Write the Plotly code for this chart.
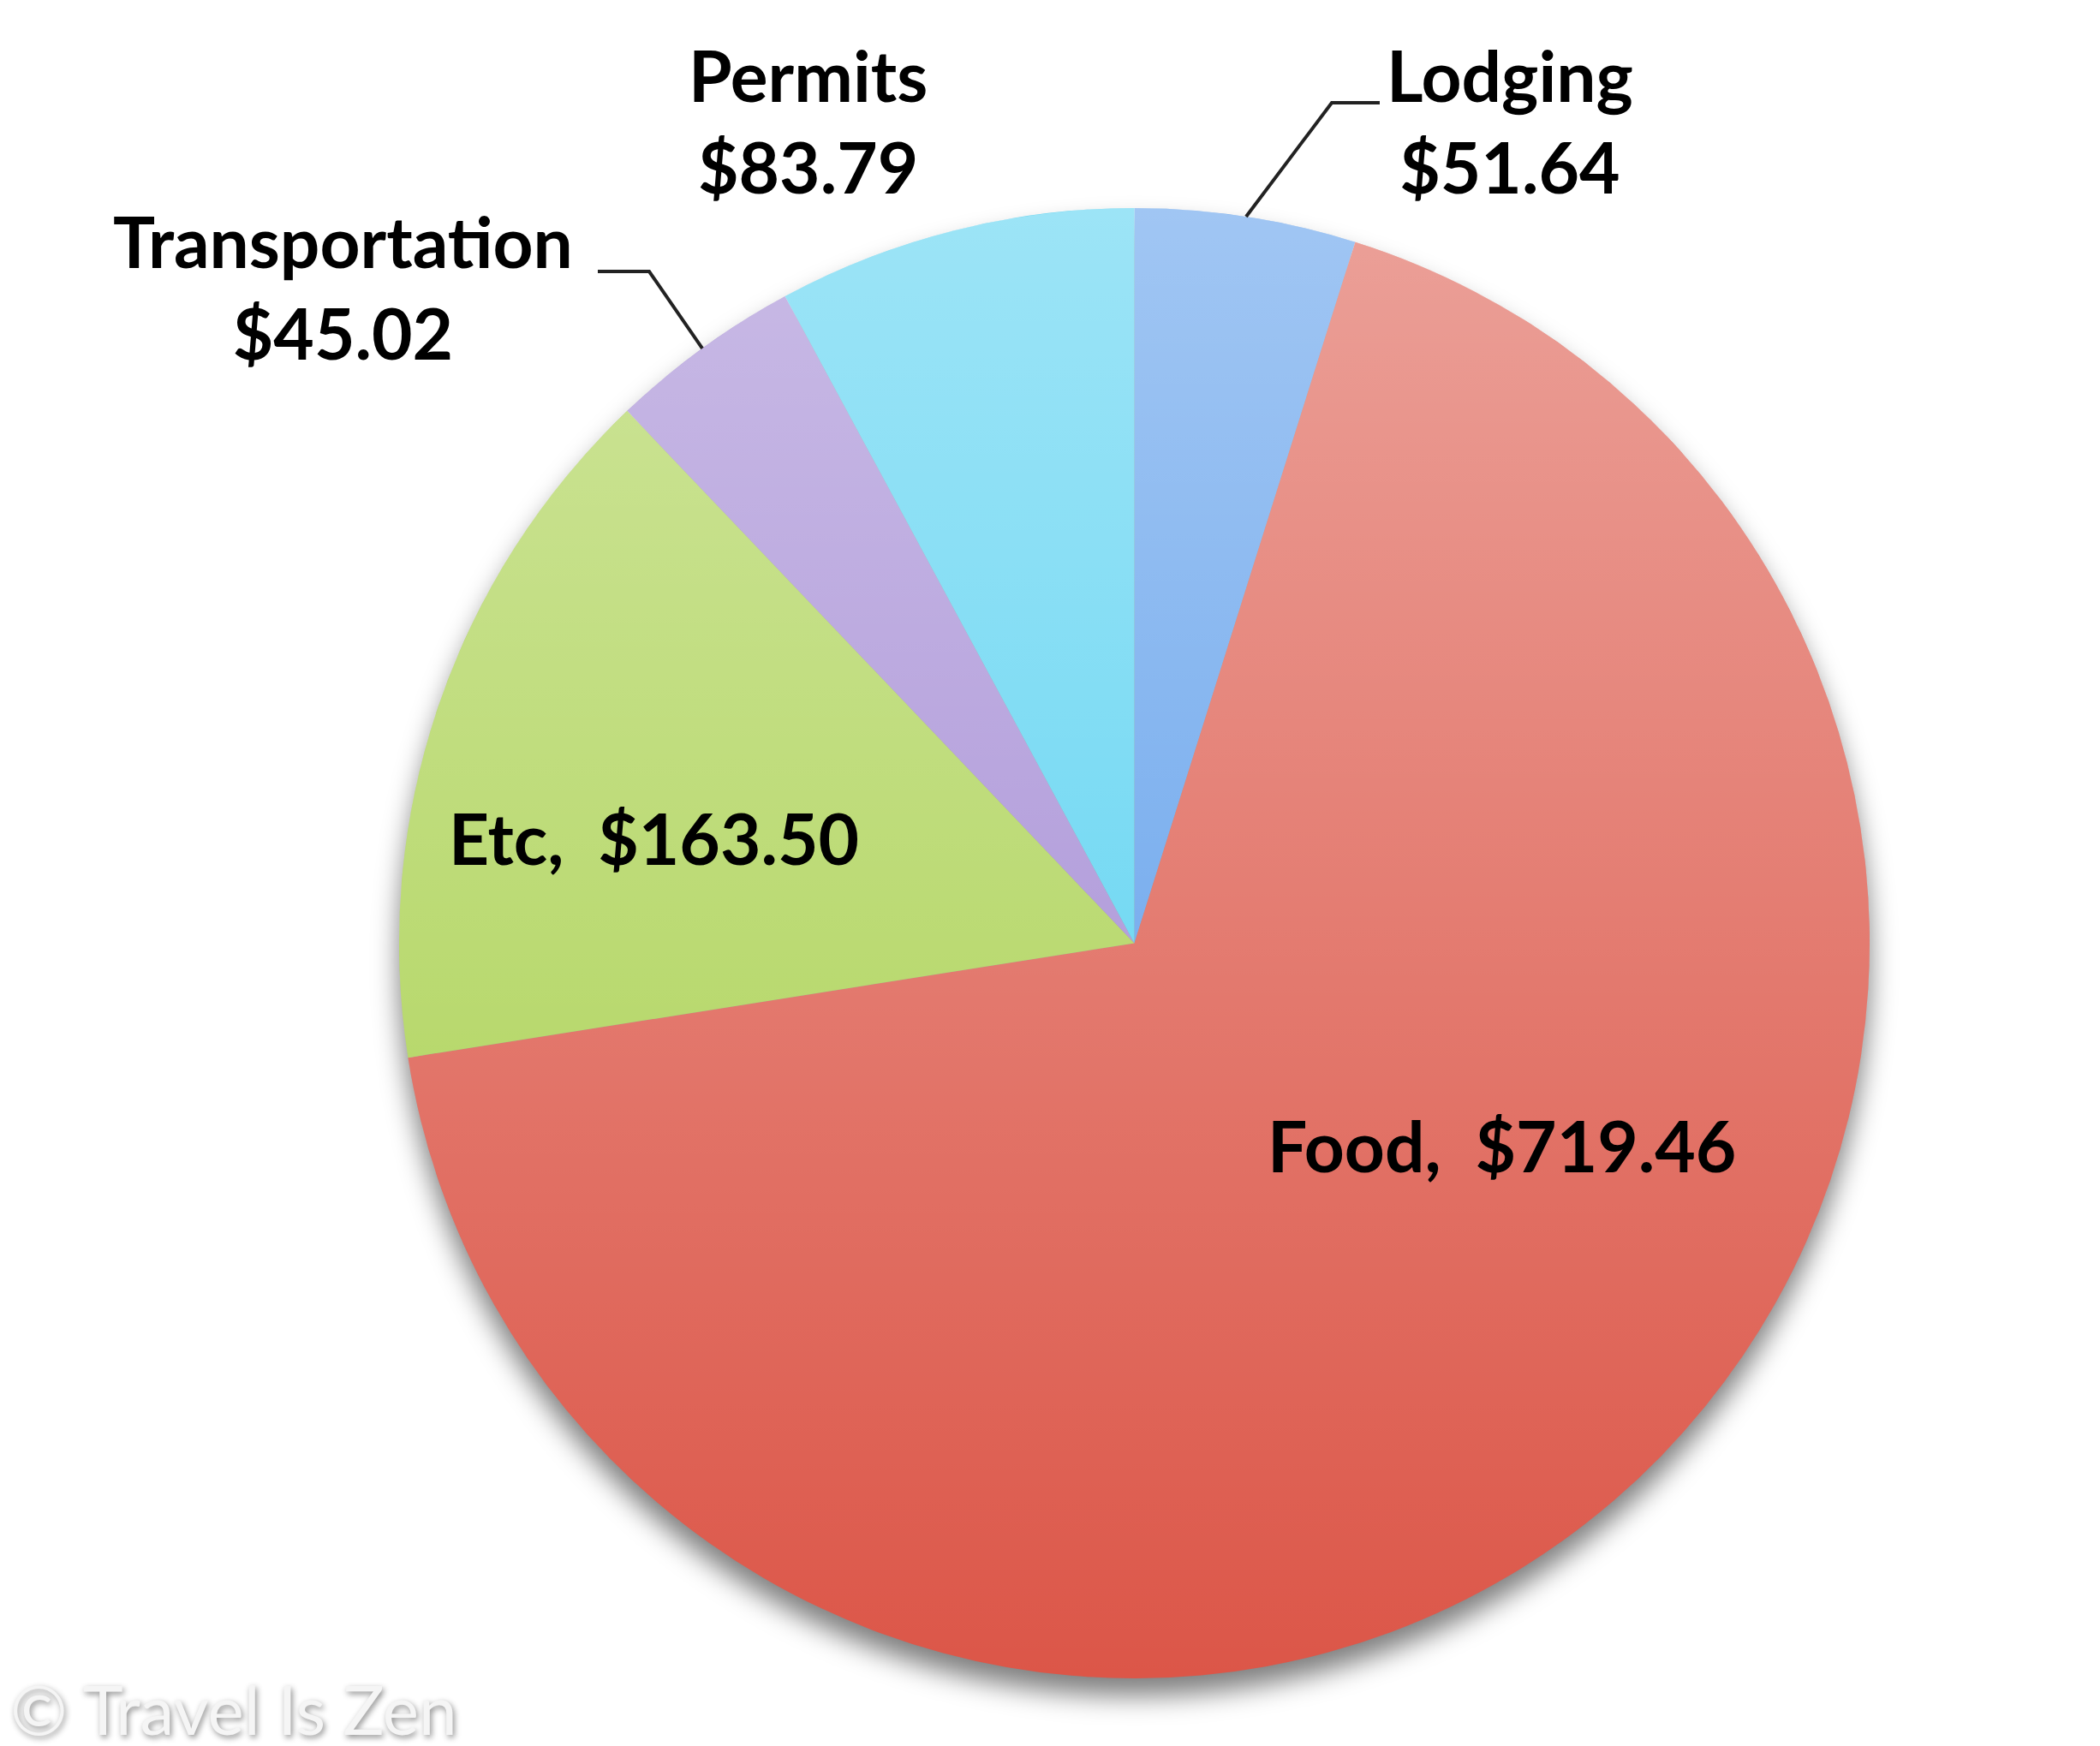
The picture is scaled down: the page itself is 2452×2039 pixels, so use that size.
import base64
import math
import plotly.graph_objects as go

# ---------------- data ----------------
categories = ["Lodging", "Food", "Etc", "Transportation", "Permits"]
amounts = [51.64, 719.46, 163.50, 45.02, 83.79]

# ---------------- style ----------------
W, H = 2452, 2039
slice_colors = ["#5699ea", "#dc5648", "#a8d04c", "#9f85d2", "#4fcff0"]
FONT = "Lato, 'Open Sans', sans-serif"
LABEL_SIZE = 82

# pie box in pixels
PIE_X0, PIE_X1 = 458, 2175
PIE_TOP, PIE_BOT = 235, 1952
CX = (PIE_X0 + PIE_X1) / 2
CY = (PIE_TOP + PIE_BOT) / 2
R = (PIE_X1 - PIE_X0) / 2

def px(x):
    return x / W

def py(y):
    return 1 - y / H

# label placement (pixel centre of text block) and style: two-line or inline
label_layout = {
    "Lodging": dict(x=1755, y=132, mode="two"),
    "Food": dict(x=1745, y=1329, mode="inline"),
    "Etc": dict(x=756, y=970, mode="inline"),
    "Transportation": dict(x=392, y=327, mode="two"),
    "Permits": dict(x=935, y=132, mode="two"),
}
# leader lines: elbow + end points (pixels); start point is computed on slice edge
leaders = {
    "Lodging": [(1547, 112), (1603, 112)],
    "Transportation": [(750, 309), (690, 309)],
}

fig = go.Figure(
    go.Pie(
        labels=categories,
        values=amounts,
        sort=False,
        direction="clockwise",
        rotation=0,
        marker=dict(colors=slice_colors, line=dict(width=0)),
        textinfo="none",
        hoverinfo="label+value",
        showlegend=False,
        domain=dict(x=[px(PIE_X0), px(PIE_X1)], y=[py(PIE_BOT), py(PIE_TOP)]),
    )
)

# ---------- soft drop shadow (below pie) and light gradient sheen (above) ----------
shadow_svg = (
    '<svg xmlns="http://www.w3.org/2000/svg" viewBox="-10 -10 120 120" preserveAspectRatio="none">'
    '<defs><filter id="b" x="-20%" y="-20%" width="140%" height="140%">'
    '<feGaussianBlur stdDeviation="0.9"/></filter></defs>'
    '<circle cx="50" cy="51.2" r="50" fill="#000" fill-opacity="0.5" filter="url(#b)"/></svg>'
)
sheen_svg = (
    '<svg xmlns="http://www.w3.org/2000/svg" viewBox="0 0 100 100" preserveAspectRatio="none">'
    '<defs><linearGradient id="g" x1="0" y1="0" x2="0" y2="1">'
    '<stop offset="0" stop-color="#fff" stop-opacity="0.44"/>'
    '<stop offset="1" stop-color="#fff" stop-opacity="0"/>'
    '</linearGradient></defs>'
    '<circle cx="50" cy="50" r="50" fill="url(#g)"/></svg>'
)

def data_uri(svg):
    return "data:image/svg+xml;base64," + base64.b64encode(svg.encode()).decode()

pw = (PIE_X1 - PIE_X0) / W
ph = (PIE_BOT - PIE_TOP) / H
images = [
    dict(source=data_uri(shadow_svg), xref="paper", yref="paper",
         x=px(PIE_X0) - 0.1 * pw, y=py(PIE_TOP) + 0.1 * ph,
         sizex=1.2 * pw, sizey=1.2 * ph, sizing="stretch",
         xanchor="left", yanchor="top", layer="below"),
    dict(source=data_uri(sheen_svg), xref="paper", yref="paper",
         x=px(PIE_X0), y=py(PIE_TOP), sizex=pw, sizey=ph, sizing="stretch",
         xanchor="left", yanchor="top", layer="above"),
]

# ---------- labels ----------
total = sum(amounts)
cum = 0.0
mid_angle = {}
for c, v in zip(categories, amounts):
    mid_angle[c] = (cum + v / 2) / total * 2 * math.pi
    cum += v

annotations = []
for c, v in zip(categories, amounts):
    lay = label_layout[c]
    money = f"${v:,.2f}"
    if lay["mode"] == "two":
        txt = f"{c}<br>{money}"
    else:
        txt = f"{c},\u00a0\u00a0{money}"
    annotations.append(dict(
        x=px(lay["x"]), y=py(lay["y"]), xref="paper", yref="paper",
        xanchor="center", yanchor="middle", showarrow=False, align="center",
        text=txt, font=dict(family=FONT, size=LABEL_SIZE, color="#000", weight="bold"),
    ))

annotations.append(dict(
    x=0, y=0, xref="paper", yref="paper", xanchor="left", yanchor="bottom",
    yshift=2, xshift=2, showarrow=False, text="\u00a9 Travel Is Zen",
    font=dict(family=FONT, size=80, color="#f5f5f5",
              shadow="2px 3px 7px rgba(0,0,0,0.45)"),
))

shapes = []
for c, pts in leaders.items():
    a = mid_angle[c]
    sx = CX + R * math.sin(a)
    sy = CY - R * math.cos(a)
    path_pts = [(sx, sy)] + pts
    path = "M " + " L ".join(f"{px(x)},{py(y)}" for x, y in path_pts)
    shapes.append(dict(type="path", xref="paper", yref="paper", path=path,
                       line=dict(color="#222222", width=4), layer="above"))

fig.update_layout(
    width=W, height=H, margin=dict(l=0, r=0, t=0, b=0),
    paper_bgcolor="white", plot_bgcolor="white",
    images=images, annotations=annotations, shapes=shapes,
)

fig.write_html("out.html")
